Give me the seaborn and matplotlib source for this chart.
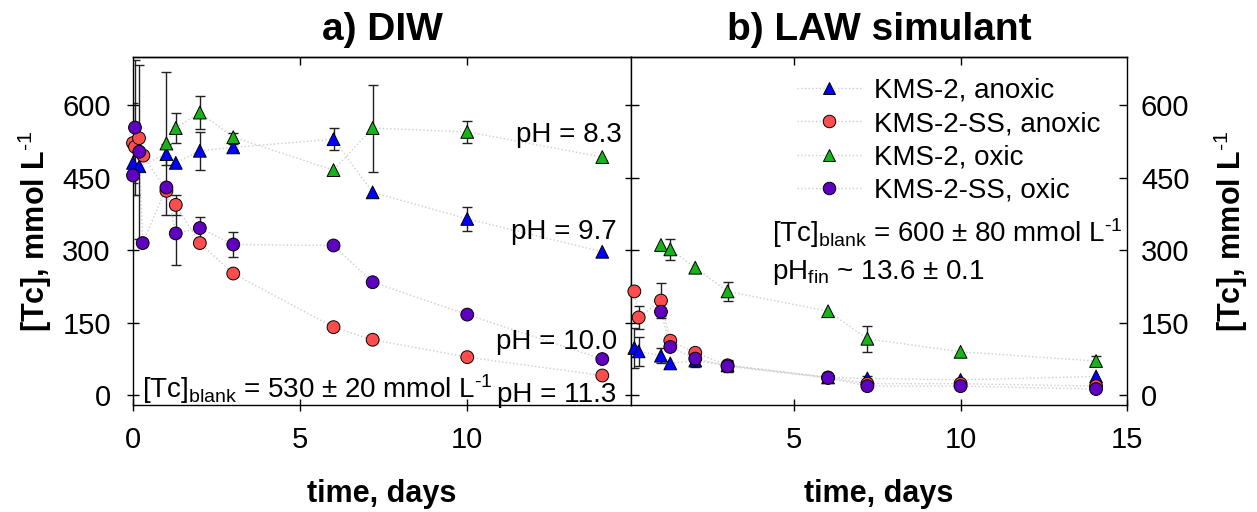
import numpy as np
import pandas as pd
import matplotlib
matplotlib.use("Agg")
import matplotlib.pyplot as plt
from matplotlib.lines import Line2D
import seaborn as sns

# ---------------------------------------------------------------- data
SERIES = ["KMS-2, anoxic", "KMS-2-SS, anoxic", "KMS-2, oxic", "KMS-2-SS, oxic"]
COLORS = {"KMS-2, anoxic": "#0000ff", "KMS-2-SS, anoxic": "#ff4d4d",
          "KMS-2, oxic": "#19b219", "KMS-2-SS, oxic": "#6000c0"}
MARKERS = {"KMS-2, anoxic": "^", "KMS-2-SS, anoxic": "o",
           "KMS-2, oxic": "^", "KMS-2-SS, oxic": "o"}

# a) DIW
diw_blue_t = [0.0, 0.19, 1.0, 1.28, 2.0, 3.0, 6.0, 7.17, 10.0, 14.04]
diw_blue_v = [481, 474, 499, 481, 506, 513, 530, 420, 365, 297]
diw_blue_e = [0, 0, 22, 0, 39, 6, 23, 0, 25, 0]
diw_red_t = [0.0, 0.06, 0.18, 0.31, 1.0, 1.28, 2.0, 3.0, 6.0, 7.17, 10.0, 14.04]
diw_red_v = [522, 514, 532, 496, 423, 394, 315, 252, 141, 115, 79, 41]
diw_red_e = [82, 0, 0, 0, 0, 20, 0, 0, 0, 0, 0, 0]
diw_green_t = [1.0, 1.28, 2.0, 3.0, 6.0, 7.17, 10.0, 14.04]
diw_green_v = [521, 553, 585, 534, 466, 553, 545, 493]
diw_green_e = [147, 31, 34, 8, 0, 90, 23, 0]
diw_purple_t = [0.0, 0.06, 0.19, 0.29, 1.0, 1.28, 2.0, 3.0, 6.0, 7.17, 10.0, 14.04]
diw_purple_v = [455, 554, 504, 315, 430, 335, 346, 312, 310, 234, 167, 75]
diw_purple_e = [40, 140, 180, 0, 0, 65, 22, 26, 8, 0, 0, 0]

# b) LAW simulant
law_blue_t = [0.2, 0.33, 1.0, 1.28, 2.03, 3.0, 6.02, 7.2, 10.0, 14.07]
law_blue_v = [98, 91, 82, 66, 72, 62, 37, 35, 32, 39]
law_blue_e = [41, 30, 15, 0, 14, 0, 0, 5, 0, 0]
law_red_t = [0.2, 0.33, 1.0, 1.28, 2.03, 3.0, 6.02, 7.2, 10.0, 14.07]
law_red_v = [215, 161, 196, 113, 88, 62, 37, 24, 24, 19]
law_red_e = [0, 23, 37, 0, 0, 12, 0, 0, 0, 0]
law_green_t = [1.0, 1.28, 2.03, 3.0, 6.02, 7.2, 10.0, 14.07]
law_green_v = [311, 302, 264, 215, 174, 117, 90, 71]
law_green_e = [0, 21, 0, 19, 0, 27, 0, 10]
law_purple_t = [1.0, 1.28, 2.03, 3.0, 6.02, 7.2, 10.0, 14.07]
law_purple_v = [173, 100, 76, 60, 36, 19, 19, 13]
law_purple_e = [8, 0, 0, 12, 0, 0, 0, 0]


def long_table(parts):
    rows = []
    for name, (t, v, e) in zip(SERIES, parts):
        rows.append(pd.DataFrame({"time": t, "tc": v, "err": e, "series": name}))
    return pd.concat(rows, ignore_index=True)


diw = long_table([(diw_blue_t, diw_blue_v, diw_blue_e), (diw_red_t, diw_red_v, diw_red_e),
                  (diw_green_t, diw_green_v, diw_green_e), (diw_purple_t, diw_purple_v, diw_purple_e)])
law = long_table([(law_blue_t, law_blue_v, law_blue_e), (law_red_t, law_red_v, law_red_e),
                  (law_green_t, law_green_v, law_green_e), (law_purple_t, law_purple_v, law_purple_e)])

# ---------------------------------------------------------------- style
sns.set_theme(style="ticks")
plt.rcParams["font.family"] = ["Liberation Sans", "DejaVu Sans"]
plt.rcParams["mathtext.fontset"] = "custom"
plt.rcParams["mathtext.rm"] = "Liberation Sans"
plt.rcParams["mathtext.bf"] = "Liberation Sans:bold"
plt.rcParams["mathtext.default"] = "regular"
plt.rcParams["axes.linewidth"] = 1.0
plt.rcParams["axes.edgecolor"] = "black"
plt.rcParams["text.color"] = "black"
plt.rcParams["axes.labelcolor"] = "black"
plt.rcParams["xtick.color"] = "black"
plt.rcParams["ytick.color"] = "black"

fig = plt.figure(figsize=(12.57, 5.12), dpi=100)
axL = fig.add_axes([0.1058, 0.2090, 0.3962, 0.6797])
axR = fig.add_axes([0.5020, 0.2090, 0.3946, 0.6797])

YLAB = r"[Tc], mmol L$^{\mathbf{\text{-1}}}$"
LINE_C = "#cccccc"


def draw(ax, df):
    sns.lineplot(data=df, x="time", y="tc", units="series", estimator=None, sort=True,
                 color=LINE_C, linestyle=":", lw=1.0, ax=ax, legend=False, zorder=1)
    for name in SERIES:
        sub = df[(df["series"] == name) & (df["err"] > 0)]
        ax.errorbar(sub["time"], sub["tc"], yerr=sub["err"], fmt="none", ecolor="#222222",
                    elinewidth=1.0, capsize=3.8, capthick=1.0, zorder=2)
    sns.scatterplot(data=df, x="time", y="tc", hue="series", style="series",
                    hue_order=SERIES, style_order=SERIES, palette=COLORS, markers=MARKERS,
                    s=85, edgecolor="black", linewidth=0.7, legend=False, ax=ax,
                    zorder=3, clip_on=False)
    ax.set_ylim(-20, 700)
    ax.set_yticks([0, 150, 300, 450, 600])
    ax.set_xlabel("time, days", fontsize=22, fontweight="bold", labelpad=18)


draw(axL, diw)
draw(axR, law)

# left panel axes
axL.set_xlim(0, 14.9)
axL.set_xticks([0, 5, 10])
axL.set_title("a) DIW", fontsize=28, fontweight="bold", pad=12)
axL.set_ylabel(YLAB, fontsize=22, fontweight="bold", labelpad=6)
axL.tick_params(axis="y", which="both", left=True, right=True, direction="inout",
                length=8, width=1, labelsize=21, pad=12)
axL.tick_params(axis="x", bottom=True, top=False, direction="inout", length=8, width=1,
                labelsize=21, pad=11)
axLt = axL.secondary_xaxis("top")
axLt.set_xticks([5, 10])
axLt.tick_params(direction="in", length=6, width=1, labeltop=False)

# right panel axes
axR.set_xlim(0.1, 15)
axR.set_xticks([5, 10, 15])
axR.set_title("b) LAW simulant", fontsize=28, fontweight="bold", pad=12)
axR.yaxis.set_label_position("right")
axR.set_ylabel(YLAB, fontsize=22, fontweight="bold", labelpad=16, rotation=90)
axR.tick_params(axis="y", left=True, right=True, labelleft=False, labelright=True,
                direction="in", length=6, width=1, labelsize=21, pad=10)
axR.tick_params(axis="x", bottom=True, top=False, direction="inout", length=8, width=1,
                labelsize=21, pad=11)
axRt = axR.secondary_xaxis("top")
axRt.set_xticks([5, 10])
axRt.tick_params(direction="in", length=6, width=1, labeltop=False)
for ax in (axL, axR):
    for sp in ax.spines.values():
        sp.set_visible(True)
        sp.set_color("black")

# annotations, left panel
TXT = dict(fontsize=20, color="black")
axL.text(0.982, 0.776, "pH = 8.3", transform=axL.transAxes, ha="right", va="center", **TXT)
axL.text(0.972, 0.497, "pH = 9.7", transform=axL.transAxes, ha="right", va="center", **TXT)
axL.text(0.972, 0.180, "pH = 10.0", transform=axL.transAxes, ha="right", va="center", **TXT)
axL.text(0.970, 0.030, "pH = 11.3", transform=axL.transAxes, ha="right", va="center", **TXT)
axL.text(0.018, 0.045, r"[Tc]$_{blank}$ = 530 ± 20 mmol L$^{\text{-1}}$",
         transform=axL.transAxes, ha="left", va="center", **TXT)

# annotations, right panel
axR.text(0.285, 0.495, r"[Tc]$_{blank}$ = 600 ± 80 mmol L$^{\text{-1}}$",
         transform=axR.transAxes, ha="left", va="center", **TXT)
axR.text(0.285, 0.38, r"pH$_{fin}$ ~ 13.6 ± 0.1", transform=axR.transAxes,
         ha="left", va="center", **TXT)

handles = [Line2D([0], [0], color=LINE_C, linestyle=":", lw=1.0, marker=MARKERS[n],
                  markerfacecolor=COLORS[n], markeredgecolor="black", markeredgewidth=0.7,
                  markersize=9) for n in SERIES]
axR.legend(handles, SERIES, loc="upper left", bbox_to_anchor=(0.334, 0.94), frameon=False,
           fontsize=20, handlelength=2.3, handletextpad=0.5, labelspacing=0.26, borderpad=0,
           borderaxespad=0)

fig.savefig("out.png", dpi=100)
